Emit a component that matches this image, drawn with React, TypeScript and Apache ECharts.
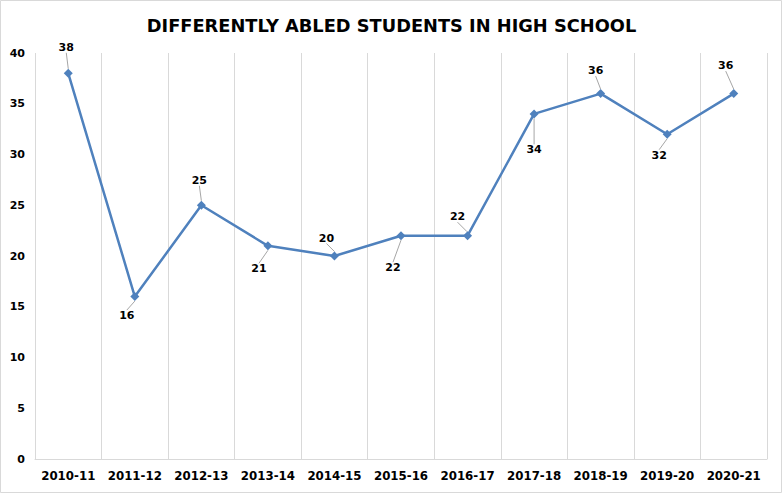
import React, { useEffect, useRef } from "react";
import * as echarts from "echarts";

const categories = ["2010-11", "2011-12", "2012-13", "2013-14", "2014-15", "2015-16", "2016-17", "2017-18", "2018-19", "2019-20", "2020-21"];
const students = [38, 16, 25, 21, 20, 22, 22, 34, 36, 32, 36];
const labelShift: [number, number][] = [
  [-2, -26], [-8, 19], [-2, -25], [-9, 23], [-8, -18], [-8, 32], [-10, -19], [0, 36], [-5, -23], [-8, 21], [-8, -28],
];

export default function App() {
  const ref = useRef<HTMLDivElement>(null);
  useEffect(() => {
    document.body.style.margin = "0";
    const chart = echarts.init(ref.current!, undefined, { renderer: "svg" });
    chart.setOption({
      animation: false,
      backgroundColor: "#ffffff",
      title: {
        text: "DIFFERENTLY ABLED STUDENTS IN HIGH SCHOOL",
        left: "center",
        top: 11,
        textStyle: { fontFamily: "DejaVu Sans", fontWeight: "bold", fontSize: 17.8, color: "#000000" },
      },
      graphic: [
        {
          type: "rect",
          shape: { x: 0.5, y: 0.5, width: 781, height: 492 },
          style: { fill: "none", stroke: "#d9d9d9", lineWidth: 1 },
          silent: true,
        },
      ],
      grid: { left: 35, right: 16, top: 53, bottom: 35, containLabel: false },
      xAxis: {
        type: "category",
        data: categories,
        boundaryGap: true,
        axisLine: { show: true, lineStyle: { color: "#d9d9d9", width: 1 } },
        axisTick: { show: false },
        splitLine: { show: true, interval: 0, lineStyle: { color: "#d9d9d9", width: 1 } },
        axisLabel: {
          interval: 0,
          hideOverlap: false,
          fontFamily: "DejaVu Sans",
          fontWeight: "bold",
          fontSize: 11.8,
          color: "#000000",
          margin: 11,
        },
      },
      yAxis: {
        type: "value",
        min: 0,
        max: 40,
        interval: 5,
        axisLine: { show: false },
        axisTick: { show: false },
        splitLine: { show: false },
        axisLabel: { fontFamily: "DejaVu Sans", fontWeight: "bold", fontSize: 11, color: "#000000", margin: 10 },
      },
      series: [
        {
          type: "line",
          data: students,
          symbol: "diamond",
          symbolSize: 9,
          lineStyle: { color: "#4f81bd", width: 2.5 },
          itemStyle: { color: "#4f81bd" },
          label: {
            show: true,
            position: "inside",
            fontFamily: "DejaVu Sans",
            fontWeight: "bold",
            fontSize: 11,
            color: "#000000",
          },
          labelLine: { show: true, lineStyle: { color: "#a6a6a6", width: 1 } },
          labelLayout: (params: any) => {
            const s = labelShift[params.dataIndex] || [0, 0];
            return { dx: s[0], dy: s[1] };
          },
        },
      ],
    });
    return () => chart.dispose();
  }, []);
  return <div ref={ref} style={{ width: 783, height: 494 }} />;
}
